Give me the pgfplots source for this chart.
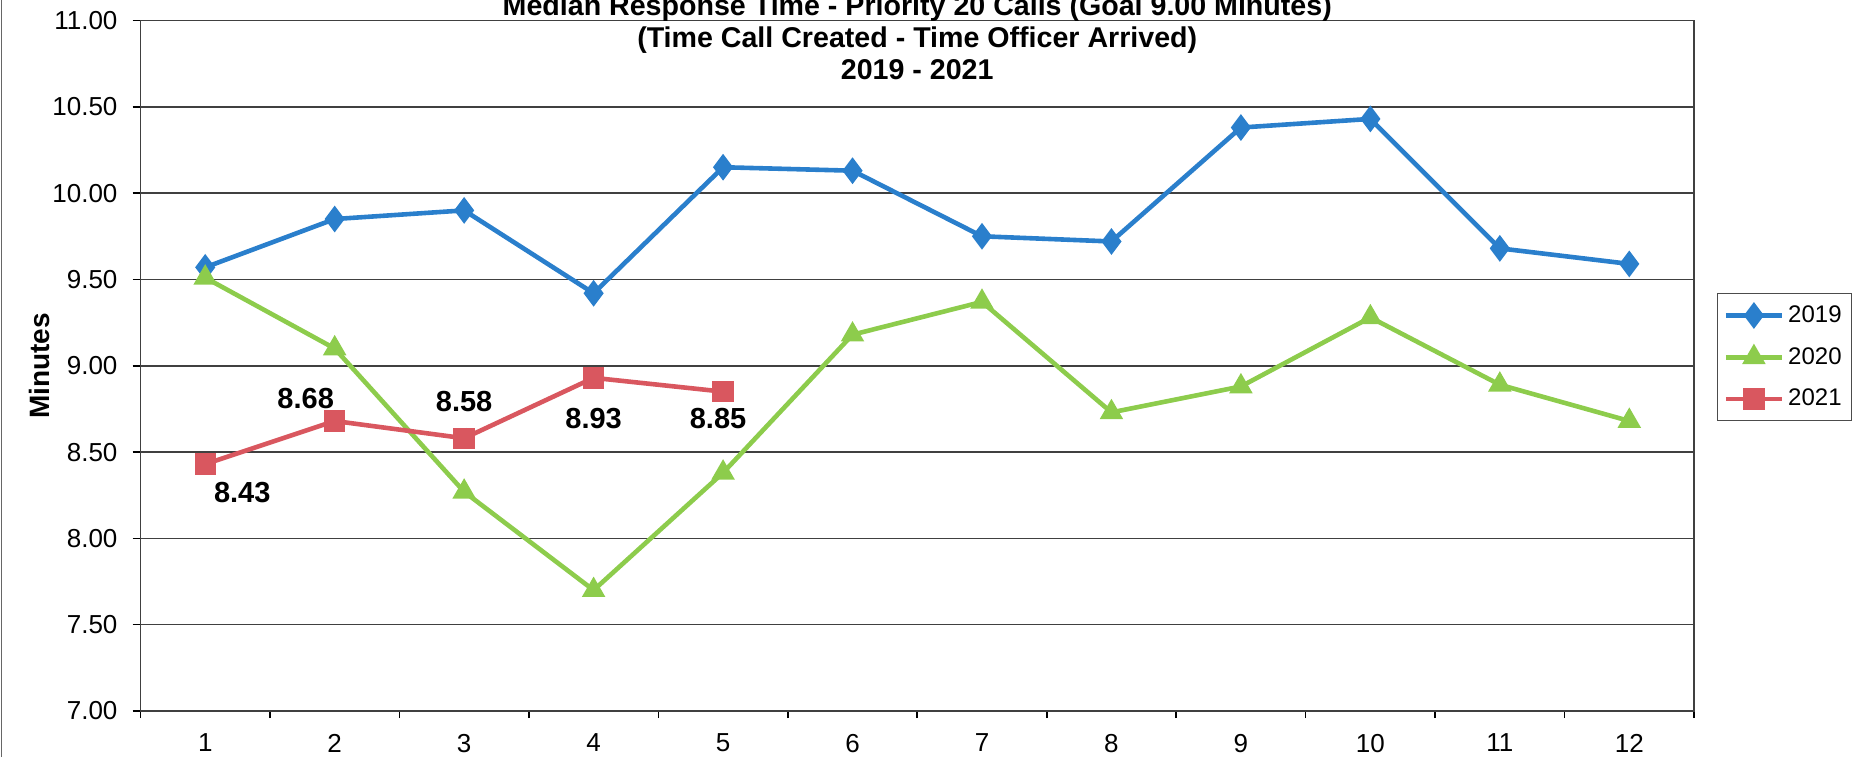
\documentclass[border=0pt]{standalone}
\usepackage{fontspec}
\setmainfont{Liberation Sans}
\usepackage{pgfplots}
\pgfplotsset{compat=1.18}
\usepackage{pgfplotstable}

\definecolor{cA}{HTML}{2A7FCC}
\definecolor{cB}{HTML}{8DCC4C}
\definecolor{cC}{HTML}{D9575F}

\pgfplotstableread{
x y
1 9.57
2 9.85
3 9.90
4 9.42
5 10.15
6 10.13
7 9.75
8 9.72
9 10.38
10 10.43
11 9.68
12 9.59
}\tA
\pgfplotstableread{
x y
1 9.51
2 9.10
3 8.27
4 7.70
5 8.38
6 9.18
7 9.37
8 8.73
9 8.88
10 9.28
11 8.89
12 8.68
}\tB
\pgfplotstableread{
x y lab dx dy
1 8.43 8.43 18.5 -14
2 8.68 8.68 -14.5 11
3 8.58 8.58 0 18.5
4 8.93 8.93 0 -20.5
5 8.85 8.85 -2.5 -13.5
}\tC

\begin{document}
\begin{tikzpicture}
\begin{axis}[
  at={(0,0)}, anchor=south west,
  scale only axis, width=776.75pt, height=345.25pt,
  xmin=0.5, xmax=12.5, ymin=7, ymax=11,
  xtick={1,...,12},
  minor xtick={0.5,1.5,...,12.5},
  major x tick style={draw=none},
  minor tick length=3.5pt,
  minor x tick style={black, line width=0.8pt},
  ytick={7,7.5,...,11},
  major tick length=4pt,
  tick align=outside,
  tick pos=left,
  ytick style={black, line width=0.8pt},
  ymajorgrids=true,
  grid style={black!75, line width=0.8pt},
  axis line style={black!75, line width=0.8pt},
  /pgf/number format/assume math mode=true,
  yticklabel style={/pgf/number format/fixed, /pgf/number format/fixed zerofill, /pgf/number format/precision=2, font=\fontsize{13}{15}\selectfont, xshift=-4pt},
  xticklabel style={font=\fontsize{13}{15}\selectfont, yshift=-4pt},
  ylabel={Minutes},
  every axis y label/.style={at={(rel axis cs:0,0.5)}, xshift=-50.75pt, rotate=90, anchor=center, font=\bfseries\fontsize{14}{16}\selectfont},
  legend style={at={(rel axis cs:1,1)}, anchor=north west, xshift=11.5pt, yshift=-136.25pt, draw=black!70, line width=0.6pt, font=\fontsize{12}{14}\selectfont, row sep=7pt, inner xsep=3pt, inner ysep=4pt},
  legend cell align=left,
  legend image code/.code={\draw[mark repeat=2,mark phase=2] plot coordinates {(0pt,0pt) (14pt,0pt) (28pt,0pt)};},
  clip=false,
]
\addplot[cA, line width=2.3pt, mark=diamond*, mark size=4.8pt, mark options={solid, fill=cA}] table[x=x,y=y]{\tA};
\addlegendentry{2019}
\addplot[cB, line width=2.3pt, mark=triangle*, mark size=4.5pt, mark options={solid, fill=cB}] table[x=x,y=y]{\tB};
\addlegendentry{2020}
\addplot[cC, line width=2.3pt, mark=square*, mark size=4.2pt, mark options={solid, fill=cC},
  nodes near coords, point meta=explicit symbolic,
  visualization depends on={\thisrow{dx}\as\dx},
  visualization depends on={\thisrow{dy}\as\dy},
  every node near coord/.append style={black, anchor=center, xshift=\dx*1pt, yshift=\dy*1pt, font=\bfseries\fontsize{14.5}{17}\selectfont}
] table[x=x,y=y,meta=lab]{\tC};
\addlegendentry{2021}
\draw[black, line width=0.8pt] ([xshift=-1pt,yshift=-2pt]axis cs:3,8.58) -- ([xshift=1.5pt,yshift=5pt]axis cs:3,8.58);
\draw[black, line width=0.8pt] ([xshift=1pt,yshift=2pt]axis cs:4,8.93) -- ([xshift=-1pt,yshift=-5pt]axis cs:4,8.93);
\node[font=\bfseries\fontsize{14.3}{16}\selectfont, align=center, anchor=center, yshift=-8.25pt] at (rel axis cs:0.5,1) {Median Response Time - Priority 20 Calls (Goal 9.00 Minutes)\\(Time Call Created - Time Officer Arrived)\\2019 - 2021};
\end{axis}
\draw[black!60, line width=0.6pt] (-69.5pt,-23pt) -- (-69.5pt,355.5pt);
\pgfresetboundingbox
\path[use as bounding box] (-70.25pt,-23pt) rectangle (863.25pt,355.5pt);
\end{tikzpicture}
\end{document}
